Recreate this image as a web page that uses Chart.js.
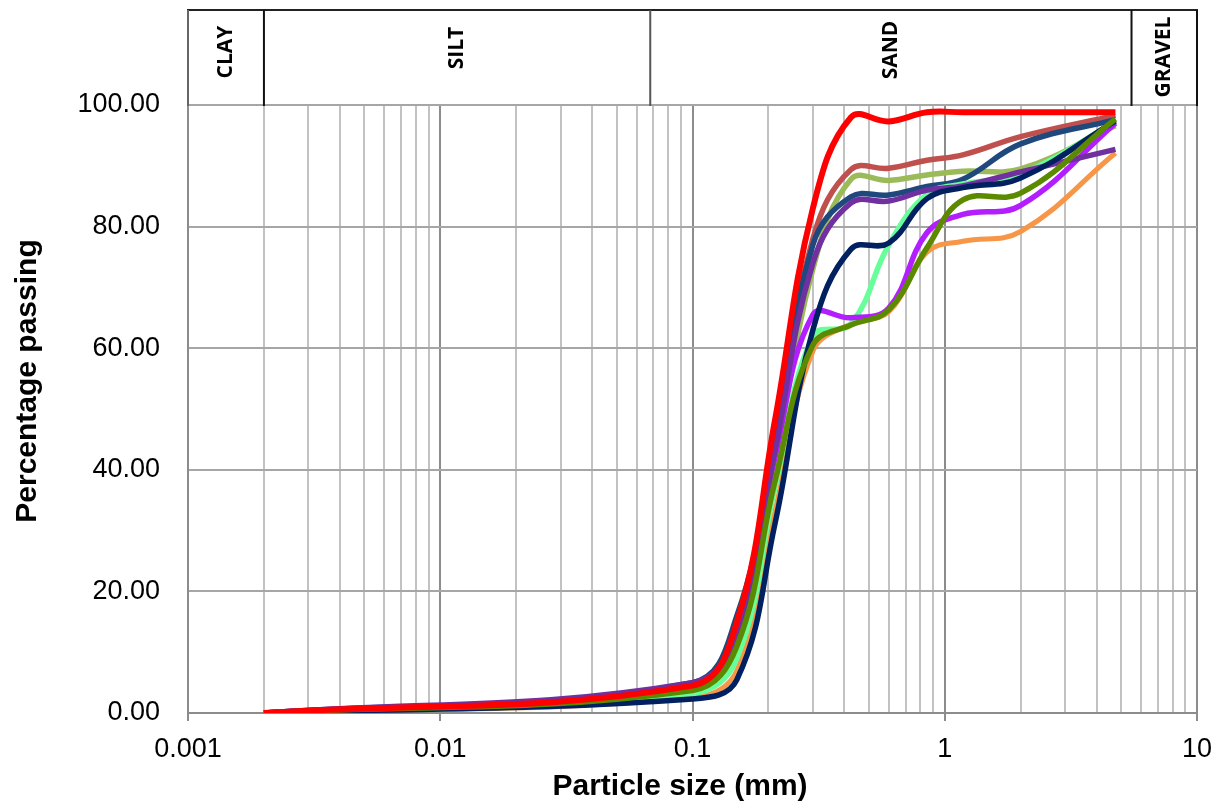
<!DOCTYPE html>
<html lang="en">
<head>
<meta charset="UTF-8">
<title>Particle size distribution</title>
<script src="https://cdn.jsdelivr.net/npm/chart.js"></script>
<style>
    * { margin: 0; padding: 0; box-sizing: border-box; }
    body { background: #fff; width: 1225px; height: 812px; overflow: hidden; }
    #chart { display: block; }
</style>
</head>
<body>
<canvas id="chart" width="1225" height="812"></canvas>
<script>
// sieve sizes (mm) and percentage passing per sample
const sieveSizes = [0.002, 0.1, 0.15, 0.212, 0.3, 0.425, 0.6, 0.85, 1.18, 2.0, 4.75];

const red        = [0, 4.5, 15.0, 48, 83.0, 98.0, 97.3, 98.8, 98.8, 98.8, 98.8];
const brownRed   = [0, 4.3, 14.0, 45, 78.0, 89.4, 89.6, 90.9, 91.8, 94.8, 98.3];
const olive      = [0, 4.0, 12.0, 41, 73.0, 87.8, 87.6, 88.5, 89.1, 89.5, 96.6];
const steelBlue  = [0, 5.0, 16.0, 44, 77.0, 84.9, 85.2, 86.6, 87.8, 93.6, 97.6];
const purple     = [0, 5.0, 13.0, 43, 74.0, 83.9, 84.2, 86.0, 86.7, 89.0, 92.7];
const navy       = [0, 2.3, 5.5, 31, 63.0, 76.3, 77.3, 84.6, 86.4, 88.0, 97.4];
const mint       = [0, 3.2, 9.0, 37, 62.0, 64.0, 77.0, 85.3, 87.0, 88.6, 97.2];
const violet     = [0, 4.0, 13.0, 42, 65.5, 65.0, 66.6, 79.0, 82.0, 83.5, 97.0];
const orange     = [0, 2.5, 7.0, 33, 59.5, 64.0, 66.0, 75.8, 77.6, 79.2, 92.1];
const darkGreen  = [0, 3.7, 11.0, 38, 60.5, 63.8, 66.3, 76.5, 84.4, 85.5, 97.7];

const yTicks = [0, 20, 40, 60, 80, 100];
const xMajorTicks = [0.001, 0.01, 0.1, 1, 10];
const soilZones = ['CLAY', 'SILT', 'SAND', 'GRAVEL'];
const zoneBounds = [0.001, 0.002, 0.068, 5.5, 10];

const series = [
    { data: red,       color: '#ff0000', width: 6 },
    { data: darkGreen, color: '#5b8a00', width: 5.5 },
    { data: navy,      color: '#002060', width: 5.5 },
    { data: purple,    color: '#7030a0', width: 5.5 },
    { data: violet,    color: '#b31eff', width: 5.5 },
    { data: mint,      color: '#66ff99', width: 5.5 },
    { data: steelBlue, color: '#1f497d', width: 5.5 },
    { data: brownRed,  color: '#c0504d', width: 5.5 },
    { data: olive,     color: '#9bbb59', width: 5.5 },
    { data: orange,    color: '#f79646', width: 5 }
];

const isMajor = v => xMajorTicks.includes(v);

const soilHeader = {
    id: 'soilHeader',
    afterDraw(chart) {
        const { ctx, chartArea, scales: { x } } = chart;
        const top = 10, bottom = chartArea.top + 1;
        const labelMid = [52, 48, 50, 57];
        ctx.save();
        ctx.lineWidth = 2;
        ctx.strokeStyle = '#222';
        ctx.beginPath();
        ctx.moveTo(chartArea.left - 1, top);
        ctx.lineTo(chartArea.right + 1, top);
        ctx.stroke();

        zoneBounds.forEach((b, i) => {
            const px = x.getPixelForValue(b);
            ctx.strokeStyle = i === 0 ? '#666' : i === 2 ? '#555' : '#111';
            ctx.beginPath();
            ctx.moveTo(px, top);
            ctx.lineTo(px, bottom);
            ctx.stroke();
        });

        ctx.fillStyle = '#000';
        ctx.font = 'bold 21px "Open Sans", sans-serif';
        ctx.textAlign = 'center';
        ctx.textBaseline = 'middle';
        soilZones.forEach((name, i) => {
            const l = x.getPixelForValue(zoneBounds[i]);
            const r = x.getPixelForValue(zoneBounds[i + 1]);
            ctx.save();
            ctx.translate((l + r) / 2, labelMid[i]);
            ctx.rotate(-Math.PI / 2);
            ctx.fillText(name, 0, 0);
            ctx.restore();
        });

        // axis titles
        ctx.font = 'bold 30px "Liberation Sans", Arial, sans-serif';
        ctx.fillText('Particle size (mm)', 680, 787);
        ctx.save();
        ctx.translate(28, 381);
        ctx.rotate(-Math.PI / 2);
        ctx.fillText('Percentage passing', 0, 0);
        ctx.restore();
        ctx.restore();
    }
};

new Chart(document.getElementById('chart'), {
    type: 'line',
    data: {
        datasets: series.map(s => ({
            data: sieveSizes.map((size, i) => ({ x: size, y: s.data[i] })),
            borderColor: s.color,
            borderWidth: s.width,
            pointRadius: 0,
            tension: 0.4,
            fill: false
        }))
    },
    options: {
        responsive: false,
        animation: false,
        layout: { padding: { top: 105, right: 28, left: 0, bottom: 0 } },
        plugins: { legend: { display: false }, tooltip: { enabled: false } },
        scales: {
            x: {
                type: 'logarithmic',
                min: 0.001,
                max: 10,
                afterBuildTicks: scale => {
                    const ticks = [];
                    for (let e = -3; e < 1; e++) {
                        for (let m = 1; m < 10; m++) {
                            ticks.push({ value: Number((m * Math.pow(10, e)).toPrecision(3)) });
                        }
                    }
                    ticks.push({ value: 10 });
                    scale.ticks = ticks;
                },
                afterFit: scale => { scale.height = 99; },
                grid: {
                    color: c => (c.tick && isMajor(c.tick.value)) ? '#8c8c8c' : '#c2c2c2',
                    tickColor: c => (c.tick && isMajor(c.tick.value)) ? '#8c8c8c' : 'rgba(0,0,0,0)',
                    lineWidth: 2,
                    tickLength: 8
                },
                border: { color: '#8c8c8c', width: 2 },
                ticks: {
                    autoSkip: false,
                    maxRotation: 0,
                    padding: 12,
                    color: '#000',
                    font: { family: '"Liberation Sans", Arial, sans-serif', size: 27 },
                    callback: v => isMajor(v) ? String(v) : ''
                }
            },
            y: {
                min: 0,
                max: 100,
                afterBuildTicks: scale => { scale.ticks = yTicks.map(v => ({ value: v })); },
                afterFit: scale => { scale.width = 188; },
                grid: { color: '#a6a6a6', lineWidth: 2, drawTicks: false },
                border: { color: '#8c8c8c', width: 2 },
                ticks: {
                    padding: 28,
                    color: '#000',
                    font: { family: '"Liberation Sans", Arial, sans-serif', size: 27 },
                    callback: v => v.toFixed(2)
                }
            }
        }
    },
    plugins: [soilHeader]
});
</script>
</body>
</html>
